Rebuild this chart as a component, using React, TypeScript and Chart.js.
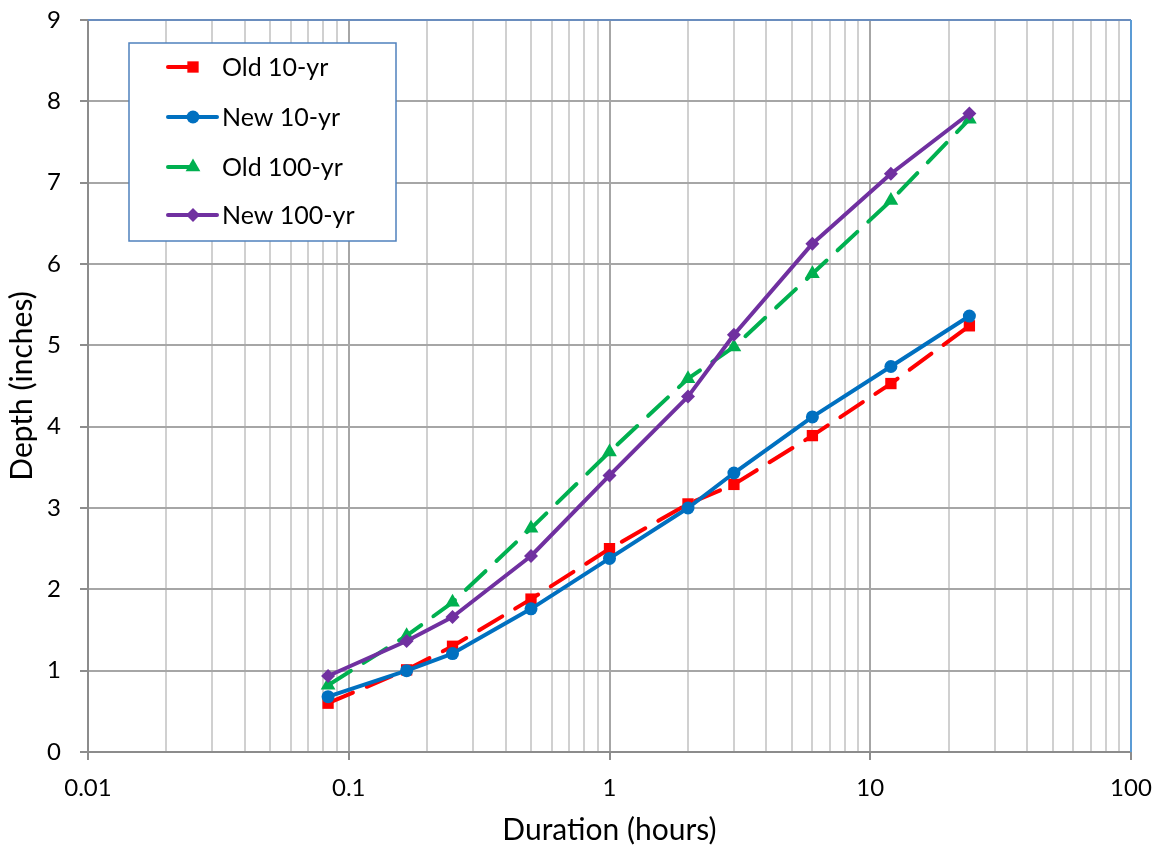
import React, { useEffect, useRef } from 'react';
import { Chart, registerables } from 'chart.js';

Chart.register(...registerables);

// Durations in hours (5, 10, 15, 30 min, 1, 2, 3, 6, 12, 24 hr)
const durations = [0.0833, 0.1667, 0.25, 0.5, 1, 2, 3, 6, 12, 24];
const old10 = [0.6, 1.01, 1.3, 1.88, 2.5, 3.05, 3.29, 3.89, 4.53, 5.24];
const new10 = [0.68, 1.0, 1.21, 1.76, 2.38, 3.0, 3.43, 4.12, 4.74, 5.36];
const old100 = [0.82, 1.43, 1.84, 2.75, 3.69, 4.59, 4.98, 5.88, 6.78, 7.78];
const new100 = [0.935, 1.365, 1.66, 2.41, 3.4, 4.37, 5.13, 6.25, 7.11, 7.85];

const seriesNames = ['Old 10-yr', 'New 10-yr', 'Old 100-yr', 'New 100-yr'];
const seriesColors = ['#FF0000', '#0070C0', '#00B050', '#7030A0'];
const xDecades = [0.01, 0.1, 1, 10, 100];
const xTickLabels = ['0.01', '0.1', '1', '10', '100'];
const yMin = 0;
const yMax = 9;

const FONT = 'Lato';

const isDecade = (v: number) => {
  const l = Math.log10(v);
  return Math.abs(l - Math.round(l)) < 1e-6;
};

function buildXTicks() {
  const out: { value: number }[] = [];
  for (let i = 0; i < xDecades.length - 1; i++) {
    for (let k = 1; k <= 9; k++) out.push({ value: +(xDecades[i] * k).toPrecision(6) });
  }
  out.push({ value: xDecades[xDecades.length - 1] });
  return out;
}

function drawMarker(ctx: CanvasRenderingContext2D, style: string, x: number, y: number, r: number, color: string) {
  ctx.save();
  ctx.fillStyle = color;
  ctx.beginPath();
  if (style === 'rect') {
    const s = Math.SQRT1_2 * r;
    ctx.rect(x - s, y - s, 2 * s, 2 * s);
  } else if (style === 'circle') {
    ctx.arc(x, y, r, 0, Math.PI * 2);
  } else if (style === 'triangle') {
    ctx.moveTo(x, y - r);
    ctx.lineTo(x + r * 0.866, y + r * 0.5);
    ctx.lineTo(x - r * 0.866, y + r * 0.5);
    ctx.closePath();
  } else if (style === 'rectRot') {
    ctx.moveTo(x, y - r);
    ctx.lineTo(x + r, y);
    ctx.lineTo(x, y + r);
    ctx.lineTo(x - r, y);
    ctx.closePath();
  }
  ctx.fill();
  ctx.restore();
}

const pointStyles = ['rect', 'circle', 'triangle', 'rectRot'];
const pointRadii = [8, 6.5, 8.5, 7];
const dashed = [true, false, true, false];

const framePlugin = {
  id: 'frameAndLegend',
  afterDraw(chart: any) {
    const { ctx, chartArea } = chart;
    const { left, right, top, bottom } = chartArea;
    ctx.save();
    // top border
    ctx.strokeStyle = '#6A8DBE';
    ctx.lineWidth = 2;
    ctx.beginPath();
    ctx.moveTo(left, top);
    ctx.lineTo(right, top);
    ctx.stroke();
    // right border
    ctx.strokeStyle = '#5B9BD5';
    ctx.beginPath();
    ctx.moveTo(right, top);
    ctx.lineTo(right, bottom);
    ctx.stroke();

    // legend box
    const bx = left + 41;
    const by = top + 23;
    const bw = 267;
    const bh = 198;
    ctx.fillStyle = '#FFFFFF';
    ctx.fillRect(bx, by, bw, bh);
    ctx.strokeStyle = '#4F81BD';
    ctx.lineWidth = 1.5;
    ctx.strokeRect(bx, by, bw, bh);

    const rowY = [by + 24, by + 74, by + 124, by + 172];
    const lineX0 = bx + 39;
    const markX = bx + 64;
    const lineX1 = bx + 88;
    const textX = bx + 93;
    ctx.font = `25px ${FONT}`;
    ctx.textBaseline = 'middle';
    ctx.textAlign = 'left';
    seriesNames.forEach((name, i) => {
      const y = rowY[i];
      ctx.strokeStyle = seriesColors[i];
      ctx.lineWidth = 4;
      ctx.lineCap = 'round';
      ctx.beginPath();
      ctx.moveTo(lineX0, y);
      ctx.lineTo(dashed[i] ? markX : lineX1, y);
      ctx.stroke();
      drawMarker(ctx, pointStyles[i], markX, y, pointRadii[i], seriesColors[i]);
      ctx.fillStyle = '#000000';
      ctx.fillText(name, textX, y + 1);
    });
    ctx.restore();
  },
};

export default function App() {
  const canvasRef = useRef<HTMLCanvasElement | null>(null);

  useEffect(() => {
    const canvas = canvasRef.current;
    if (!canvas) return;
    const seriesValues = [old10, new10, old100, new100];
    const datasets = seriesValues.map((vals, i) => ({
      label: seriesNames[i],
      data: durations.map((d, j) => ({ x: d, y: vals[j] })),
      borderColor: seriesColors[i],
      backgroundColor: seriesColors[i],
      borderWidth: 4,
      borderDash: dashed[i] ? [27, 15] : [],
      borderCapStyle: dashed[i] ? 'round' : 'butt',
      borderJoinStyle: 'round',
      pointStyle: pointStyles[i],
      pointRadius: pointRadii[i],
      pointBorderWidth: 0,
      pointBackgroundColor: seriesColors[i],
      pointBorderColor: seriesColors[i],
      tension: 0,
      order: 4 - i,
    }));

    const chart = new Chart(canvas, {
      type: 'line',
      data: { datasets } as any,
      plugins: [framePlugin],
      options: {
        animation: false,
        responsive: false,
        events: [],
        layout: { padding: { top: 20, right: 30, left: 0, bottom: 0 } },
        plugins: {
          legend: { display: false },
          tooltip: { enabled: false },
        },
        scales: {
          x: {
            type: 'logarithmic',
            min: xDecades[0],
            max: xDecades[xDecades.length - 1],
            afterBuildTicks: (scale: any) => {
              scale.ticks = buildXTicks();
            },
            afterFit: (scale: any) => {
              scale.height = 100;
              scale.paddingLeft = 0;
              scale.paddingRight = 0;
              scale.paddingTop = 0;
              scale.paddingBottom = 0;
            },
            ticks: {
              autoSkip: false,
              maxRotation: 0,
              minRotation: 0,
              padding: 14,
              color: '#000000',
              font: { family: FONT, size: 24 },
              callback: (value: any) => {
                const v = Number(value);
                if (!isDecade(v)) return '';
                const idx = Math.round(Math.log10(v)) - Math.round(Math.log10(xDecades[0]));
                return xTickLabels[idx] ?? '';
              },
            },
            grid: {
              color: (c: any) => (c.tick && isDecade(c.tick.value) ? '#A6A6A6' : '#D0D0D0'),
              lineWidth: 2,
              tickLength: 8,
              tickColor: (c: any) => (c.tick && isDecade(c.tick.value) ? '#8C8C8C' : 'rgba(0,0,0,0)'),
              tickWidth: 2,
            },
            border: { display: true, color: '#8C8C8C', width: 2 },
            title: {
              display: true,
              text: 'Duration (hours)',
              color: '#000000',
              font: { family: FONT, size: 30 },
              padding: { top: 0, bottom: 4 },
            },
          },
          y: {
            type: 'linear',
            min: yMin,
            max: yMax,
            afterFit: (scale: any) => {
              scale.width = 88;
              scale.paddingLeft = 0;
              scale.paddingRight = 0;
              scale.paddingTop = 0;
              scale.paddingBottom = 0;
            },
            ticks: {
              stepSize: 1,
              padding: 19,
              color: '#000000',
              font: { family: FONT, size: 24 },
            },
            grid: {
              color: '#A6A6A6',
              lineWidth: 2,
              tickLength: 8,
              tickColor: '#8C8C8C',
              tickWidth: 2,
            },
            border: { display: true, color: '#8C8C8C', width: 2 },
            title: {
              display: true,
              text: 'Depth (inches)',
              color: '#000000',
              font: { family: FONT, size: 30 },
              padding: { top: 4, bottom: 0 },
            },
          },
        },
      } as any,
    });

    return () => {
      chart.destroy();
    };
  }, []);

  return (
    <div style={{ position: 'absolute', left: 0, top: 0, width: 1161, height: 852, background: '#FFFFFF' }}>
      <canvas ref={canvasRef} width={1161} height={852} style={{ display: 'block' }} />
    </div>
  );
}
